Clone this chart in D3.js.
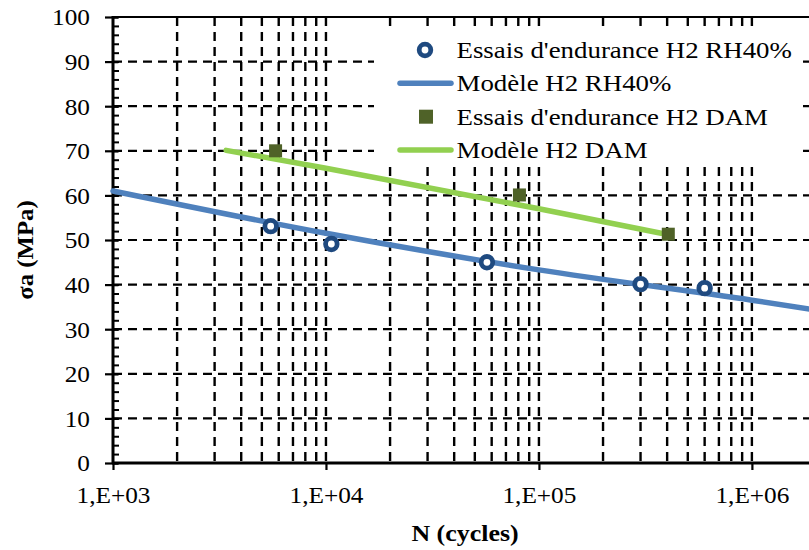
<!DOCTYPE html>
<html><head><meta charset="utf-8">
<script src="https://cdn.jsdelivr.net/npm/d3@7"></script>
<style>html,body{margin:0;padding:0;background:#fff;} svg{display:block;}</style>
</head><body>
<svg id="chart" width="809" height="550"></svg>
<script>
// ---- data ----
const rhN = [5500, 10600, 57000, 300000, 600000];
const rhS = [53.1, 49.1, 45.0, 40.1, 39.2];
const damN = [5800, 81000, 405000];
const damS = [70.0, 60.1, 51.3];
const modelRhN = [1000, 10000, 100000, 1000000, 2000000];
const modelRhS = [61.0, 51.5, 43.3, 36.5, 34.3];
const modelDamN = [3400, 10000, 100000, 375000];
const modelDamS = [70.1, 66.1, 57.0, 51.5];
const xTickValues = [1e3, 1e4, 1e5, 1e6];
const xTickLabels = ["1,E+03", "1,E+04", "1,E+05", "1,E+06"];
const yTickValues = [0, 10, 20, 30, 40, 50, 60, 70, 80, 90, 100];
const legendLabels = ["Essais d'endurance H2 RH40%", "Modèle H2 RH40%", "Essais d'endurance H2 DAM", "Modèle H2 DAM"];
const xTitle = "N (cycles)";
const yTitle = "σa (MPa)";

const FONT = "'Liberation Serif','Times New Roman',serif";
const cRhMark = "#1f4a80", cRhLine = "#4f81bd", cDamMark = "#4f6228", cDamLine = "#92d050";

const svg = d3.select("#chart");
const L = 113, T = 17, B = 463, R = 809;
const x = d3.scaleLog().domain([1e3, 2e6]).range([L, 816]);
const y = d3.scaleLinear().domain([0, 100]).range([B, T]);

// gridlines
const grid = svg.append("g");
const vGrid = x.ticks().filter(v => v > 1e3 && v <= 1e6 + 1);
grid.selectAll("line.v").data(vGrid).join("line")
  .attr("x1", d => x(d)).attr("x2", d => x(d)).attr("y1", T).attr("y2", B)
  .attr("stroke", "#000").attr("stroke-width", 2.4).attr("stroke-dasharray", "9,6");
grid.selectAll("line.h").data(yTickValues.filter(v => v > 0 && v < 100)).join("line")
  .attr("x1", L).attr("x2", R).attr("y1", d => y(d)).attr("y2", d => y(d))
  .attr("stroke", "#000").attr("stroke-width", 2.2).attr("stroke-dasharray", "9,6");

// top border
svg.append("line").attr("x1", L).attr("x2", R).attr("y1", T).attr("y2", T)
  .attr("stroke", "#000").attr("stroke-width", 2);

// y axis (major)
const yAx = svg.append("g").attr("transform", `translate(${L},0)`)
  .call(d3.axisLeft(y).tickValues(yTickValues).tickSize(8).tickFormat(d => d));
yAx.select(".domain").remove();
yAx.selectAll(".tick line").attr("x1", -8).attr("x2", 5).attr("stroke", "#000").attr("stroke-width", 2.2);
yAx.selectAll(".tick text").attr("x", 0).attr("dy", null).attr("y", 0)
  .attr("text-anchor", "end")
  .attr("transform", "translate(-23,7.8) scale(1.1,1)")
  .style("font-family", FONT).style("font-size", "23px").attr("fill", "#000");
// y axis minor ticks
const yMin = svg.append("g").attr("transform", `translate(${L},0)`)
  .call(d3.axisRight(y).tickValues(d3.range(0, 101, 2)).tickSize(6).tickFormat(""));
yMin.select(".domain").remove();
yMin.selectAll(".tick line").attr("stroke", "#000").attr("stroke-width", 2);

// x axis
const xAx = svg.append("g").attr("transform", `translate(0,${B})`)
  .call(d3.axisBottom(x).tickValues(xTickValues).tickSize(7).tickFormat((d, i) => xTickLabels[i]));
xAx.select(".domain").remove();
xAx.selectAll(".tick line").attr("stroke", "#000").attr("stroke-width", 2.2);
xAx.selectAll(".tick text").attr("y", 0).attr("dy", null)
  .attr("text-anchor", "middle")
  .attr("transform", "translate(0,40) scale(1.1,1)")
  .style("font-family", FONT).style("font-size", "23px").attr("fill", "#000");

// axis lines
svg.append("line").attr("x1", L).attr("x2", L).attr("y1", T - 1).attr("y2", B + 1)
  .attr("stroke", "#000").attr("stroke-width", 3);
svg.append("line").attr("x1", L - 1).attr("x2", R).attr("y1", B).attr("y2", B)
  .attr("stroke", "#000").attr("stroke-width", 3);

// axis titles
svg.append("text").attr("transform", "translate(465,541) scale(1.08,1)")
  .attr("text-anchor", "middle").style("font-family", FONT).style("font-size", "24px")
  .style("font-weight", "bold").text(xTitle);
svg.append("text").attr("transform", "translate(33,250) rotate(-90) scale(1.1,1)")
  .attr("text-anchor", "middle").style("font-family", FONT).style("font-size", "22.5px")
  .style("font-weight", "bold").text(yTitle);

// model lines
const line = d3.line().x(d => x(d[0])).y(d => y(d[1])).curve(d3.curveMonotoneX);
svg.append("path").datum(modelRhN.map((n, i) => [n, modelRhS[i]]))
  .attr("d", line).attr("fill", "none").attr("stroke", cRhLine).attr("stroke-width", 5.5).attr("stroke-linecap", "round");
svg.append("path").datum(modelDamN.map((n, i) => [n, modelDamS[i]]))
  .attr("d", line).attr("fill", "none").attr("stroke", cDamLine).attr("stroke-width", 5.5).attr("stroke-linecap", "round");

// markers
svg.selectAll("circle.rh").data(rhN.map((n, i) => [n, rhS[i]])).join("circle")
  .attr("cx", d => x(d[0])).attr("cy", d => y(d[1])).attr("r", 5.8)
  .attr("fill", "#fff").attr("stroke", cRhMark).attr("stroke-width", 4.8);
svg.selectAll("rect.dam").data(damN.map((n, i) => [n, damS[i]])).join("rect")
  .attr("x", d => x(d[0]) - 6.5).attr("y", d => y(d[1]) - 6.5).attr("width", 13).attr("height", 13)
  .attr("fill", cDamMark);

// legend
const lg = svg.append("g");
lg.append("rect").attr("x", 374).attr("y", 27).attr("width", 428).attr("height", 139).attr("fill", "#fff");
const rowY = [50, 83.3, 116.7, 150];
legendLabels.forEach((lab, i) => {
  const cy = rowY[i];
  if (i === 0) {
    lg.append("circle").attr("cx", 425).attr("cy", cy).attr("r", 5.8)
      .attr("fill", "#fff").attr("stroke", cRhMark).attr("stroke-width", 4.8);
  } else if (i === 2) {
    lg.append("rect").attr("x", 419).attr("y", cy - 7).attr("width", 14).attr("height", 14).attr("fill", cDamMark);
  } else {
    lg.append("line").attr("x1", 400).attr("x2", 451).attr("y1", cy).attr("y2", cy)
      .attr("stroke", i === 1 ? cRhLine : cDamLine).attr("stroke-width", 5.5).attr("stroke-linecap", "round");
  }
  lg.append("text").attr("transform", `translate(456.5,${cy + 7.8}) scale(1.12,1)`)
    .style("font-family", FONT).style("font-size", "24px").attr("fill", "#000").text(lab);
});
</script>
</body></html>
